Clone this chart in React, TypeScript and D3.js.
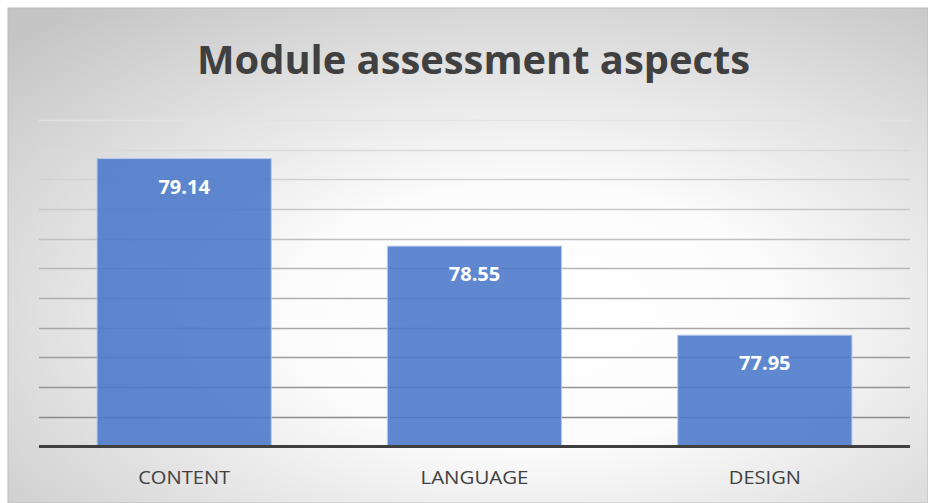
import React from "react";
import * as d3 from "d3";

const categories = ["CONTENT", "LANGUAGE", "DESIGN"];
const values = [79.14, 78.55, 77.95];
const yTicks = [77.2, 77.4, 77.6, 77.8, 78.0, 78.2, 78.4, 78.6, 78.8, 79.0, 79.2, 79.4];
const title = "Module assessment aspects";

const W = 928;
const H = 503;

export default function App() {
  const left = 39;
  const right = 910;
  const top = 120;
  const bottom = 446.5;

  const x = d3.scaleBand<string>().domain(categories).range([left, right]).paddingInner(0.4).paddingOuter(0.2);
  const y = d3.scaleLinear().domain([77.2, 79.4]).range([bottom, top]);
  const gridColor = d3.scaleLinear<string>().domain([79.4, 77.4]).range(["#e2e2e2", "#8c8c8c"]).interpolate(d3.interpolateRgb);

  return (
    <svg width={W} height={H} style={{ position: "absolute", left: 0, top: 0, display: "block" }}>
      <defs>
        <radialGradient id="bg" cx="0.57" cy="0.62" r="0.8" fx="0.57" fy="0.62">
          <stop offset="0" stopColor="#ffffff" />
          <stop offset="0.33" stopColor="#fcfcfc" />
          <stop offset="1" stopColor="#c4c4c4" />
        </radialGradient>
      </defs>
      <rect x={0} y={0} width={W} height={H} fill="#ffffff" />
      <rect x={8} y={8} width={W - 8} height={H - 8} fill="url(#bg)" stroke="#bdbdbd" strokeWidth={1} />
      <text
        x={473.5}
        y={74}
        textAnchor="middle"
        fontFamily="'Open Sans', 'Noto Sans', sans-serif"
        fontWeight={700}
        fontSize={40}
        fill="#404040"
        textLength={553}
        lengthAdjust="spacingAndGlyphs"
      >
        {title}
      </text>
      {yTicks.slice(1).map((t) => (
        <line key={t} x1={left} x2={right} y1={Math.round(y(t)) + 0.5} y2={Math.round(y(t)) + 0.5} stroke={gridColor(t)} strokeWidth={1.3} />
      ))}
      {categories.map((c, i) => (
        <g key={c}>
          <rect
            x={x(c)}
            y={y(values[i])}
            width={x.bandwidth()}
            height={bottom - y(values[i])}
            fill="#4a78c9"
            fillOpacity={0.88}
            stroke="#b4c8ec"
            strokeWidth={1}
          />
          <text
            x={(x(c) as number) + x.bandwidth() / 2}
            y={y(values[i]) + 35}
            textAnchor="middle"
            fontFamily="'Open Sans', 'Noto Sans', sans-serif"
            fontWeight={700}
            fontSize={20}
            fill="#ffffff"
          >
            {values[i].toFixed(2)}
          </text>
          <text
            x={(x(c) as number) + x.bandwidth() / 2}
            y={484}
            textAnchor="middle"
            fontFamily="'Open Sans', 'Noto Sans', sans-serif"
            fontSize={19}
            fill="#404040"
            textLength={c === "CONTENT" ? 92 : c === "LANGUAGE" ? 108 : 72}
            lengthAdjust="spacingAndGlyphs"
          >
            {c}
          </text>
        </g>
      ))}
      <line x1={left} x2={right} y1={bottom} y2={bottom} stroke="#404040" strokeWidth={3} />
    </svg>
  );
}
